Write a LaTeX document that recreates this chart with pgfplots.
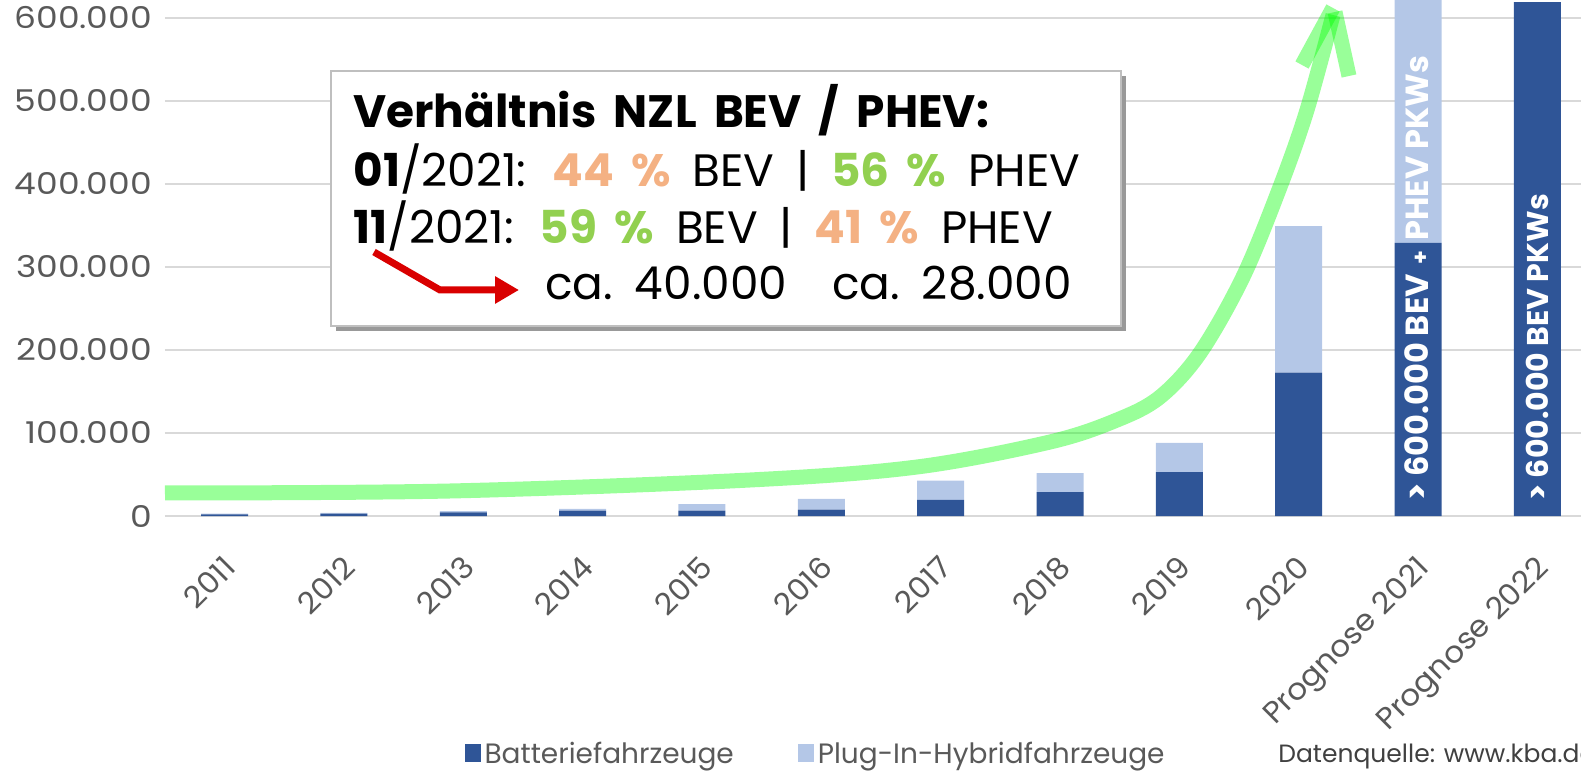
\documentclass[border=0pt]{standalone}
\usepackage{fontspec}
\setmainfont{Poppins}
\newfontfamily\ytickfont[FakeStretch=1.15]{Poppins}
\newfontfamily\xtickfont[FakeStretch=1.04]{Poppins}
\newfontfamily\boxfont[WordSpace=1.8]{Poppins}
\usepackage{pgfplots}
\pgfplotsset{compat=1.18}
\usetikzlibrary{arrows.meta}
\definecolor{bev}{HTML}{2F5597}
\definecolor{phev}{HTML}{B4C7E7}
\definecolor{ticktxt}{HTML}{595959}
\definecolor{gridc}{HTML}{D9D9D9}
\definecolor{orng}{HTML}{F4B183}
\definecolor{grn}{HTML}{92D050}

\begin{document}
\begin{tikzpicture}
\begin{axis}[
  name=ax,
  scale only axis,
  width=716pt, height=258pt,
  ybar stacked, bar width=23.5pt,
  xmin=-0.5, xmax=11.5,
  ymin=0, ymax=621700,
  xtick={0,...,11},
  xticklabels={2011,2012,2013,2014,2015,2016,2017,2018,2019,2020,Prognose 2021,Prognose 2022},
  ytick={0,100000,...,600000},
  yticklabels={0,100.000,200.000,300.000,400.000,500.000,600.000},
  scaled y ticks=false,
  ymajorgrids, grid style={gridc, line width=1pt},
  axis lines*=left,
  y axis line style={draw=none},
  x axis line style={gridc, line width=1pt},
  major tick length=0pt,
  tick label style={text=ticktxt},
  yticklabel style={font=\ytickfont\fontsize{15}{17}\selectfont, anchor=east, xshift=-3pt},
  x tick label style={font=\xtickfont\fontsize{15}{17}\selectfont,
    rotate=45, anchor=north east, xshift=-11pt, yshift=-9pt},
  legend style={at={(0.455,-0.461)}, anchor=center, draw=none, fill=none,
    legend columns=2, font=\fontsize{14}{16}\selectfont, text=ticktxt,
    /tikz/every even column/.append style={column sep=30pt}},
  legend image code/.code={\fill[#1] (0pt,-4pt) rectangle (8pt,5pt);},
]
\addplot[fill=bev, draw=none] coordinates {
  (0,2100) (1,2900) (2,4500) (3,6500) (4,6500) (5,7700)
  (6,19300) (7,28900) (8,53000) (9,172700) (10,329000) (11,619000)};
\addlegendentry{Batteriefahrzeuge}
\addplot[fill=phev, draw=none] coordinates {
  (0,900) (1,800) (2,1500) (3,2000) (4,7700) (5,12800)
  (6,23300) (7,22900) (8,35000) (9,176700) (10,293000) (11,0)};
\addlegendentry{Plug-In-Hybridfahrzeuge}
\end{axis}

% annotations in pixel coordinates of the reference (origin top left)
\begin{scope}[shift={(ax.south west)}, x=0.5pt, y=-0.5pt, shift={(-165,-516)}]
  \pgfresetboundingbox
  \path[use as bounding box] (0,0) rectangle (1581,771);
  % labels inside the forecast bars
  \node[rotate=90, anchor=west, inner sep=0pt, text=white,
        font=\bfseries\fontsize{16}{18}\selectfont]
    at (1417,501) {> 600.000 BEV\hspace{5pt}{\fontsize{11}{12}\selectfont +}\hspace{5pt}PHEV PKWs};
  \node[rotate=90, anchor=west, inner sep=0pt, text=white,
        font=\bfseries\fontsize{15}{17}\selectfont]
    at (1537,501) {> 600.000 BEV PKWs};
  % green trend arrow
  \draw[green, opacity=0.4, line width=7.5pt]
    plot[smooth, tension=0.55] coordinates {
      (165,493) (450,491) (750,480) (917,467) (1050,442) (1117,420)
      (1160,397) (1200,353) (1243,277) (1280,187) (1307,110) (1333,15)};
  \draw[green, opacity=0.4, line width=7.5pt] (1333,8) -- (1302,65);
  \draw[green, opacity=0.4, line width=7.5pt] (1335,12) -- (1349,76);
  % text box
  \fill[black!40] (336,76) rectangle (1126,331);
  \draw[fill=white, draw=black!25, line width=1pt] (331,71) rectangle (1121,326);
  \begin{scope}[every node/.style={anchor=base west, inner sep=0pt,
      font=\boxfont\fontsize{22.7}{26}\selectfont}]
    \node at (353,128) {\bfseries Verhältnis NZL BEV / PHEV:};
    \node at (353,187) {\textbf{01}/2021: \textcolor{orng}{\textbf{44 \%}} BEV | \textcolor{grn}{\textbf{56 \%}} PHEV};
    \node at (353,244) {\textbf{11}/2021: \textcolor{grn}{\textbf{59 \%}} BEV | \textcolor{orng}{\textbf{41 \%}} PHEV};
    \node at (545,300) {ca.\ 40.000};
    \node at (832,300) {ca.\ 28.000};
  \end{scope}
  \draw[red!85!black, line width=3.5pt, -{Triangle[length=12pt, width=13pt]}]
    (374,252) -- (440,290) -- (519,290);
  % source
  \node[anchor=west, inner sep=0pt, text=black!75, font=\fontsize{12.5}{14}\selectfont]
    at (1278,757) {Datenquelle: www.kba.de};
\end{scope}
\end{tikzpicture}
\end{document}
